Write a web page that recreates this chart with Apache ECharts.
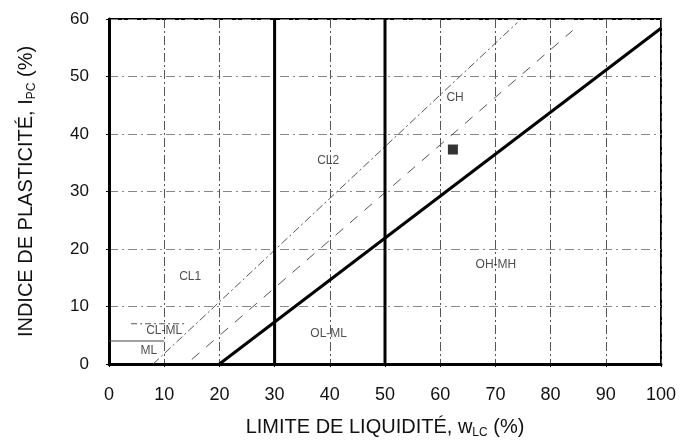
<!DOCTYPE html>
<html>
<head>
<meta charset="utf-8">
<script src="https://cdn.jsdelivr.net/npm/echarts@6/dist/echarts.min.js"></script>
<style>
html,body{margin:0;padding:0;background:#fff;}
#c{width:694px;height:444px;}
</style>
</head>
<body>
<div id="c"></div>
<script>
// ---- data ----
const xMin = 0, xMax = 100, xStep = 10;
const yMin = 0, yMax = 60, yStep = 10;
const aLine = [[20, 0], [100, 58.4]];          // thick boundary line
const uLine = [[8, 0], [74, 59.4]];            // thin dash-dot line
const midLine = [[15, 0.8], [84, 58]];         // dashed line
const wl30 = [[30, 0], [30, 60]];
const wl50 = [[50, 0], [50, 60]];
const clml4 = [[0, 4], [10, 4]];
const clml7 = [[4, 7], [14, 7]];
const samplePoint = [[62.3, 37.3]];
const zoneNames = ['CH', 'CL2', 'CL1', 'CL-ML', 'ML', 'OL-ML', 'OH-MH'];
const zoneX = [62.7, 39.7, 14.7, 10, 7.2, 39.8, 70.1];
const zoneY = [46.3, 35.3, 15.2, 5.8, 2.4, 5.3, 17.2];
const xName = 'LIMITE DE LIQUIDITÉ, w{sub|LC} (%)';
const yName = 'INDICE DE PLASTICITÉ, I{sub|PC} (%)';

const FONT = '"Liberation Sans", Arial, sans-serif';
const zoneData = zoneNames.map((n, i) => ({ name: n, value: [zoneX[i], zoneY[i]] }));

const nameRich = {
  sub: { fontSize: 12, lineHeight: 10, verticalAlign: 'bottom', fontFamily: FONT, color: '#111' }
};

const chart = echarts.init(document.getElementById('c'), null, { renderer: 'canvas' });
chart.setOption({
  animation: false,
  backgroundColor: '#fff',
  grid: { left: 109, right: 33, top: 19, bottom: 73, show: true, borderColor: '#000', borderWidth: 2, backgroundColor: 'transparent' },
  xAxis: {
    type: 'value', min: xMin, max: xMax, interval: xStep,
    name: xName, nameLocation: 'middle', nameGap: 51,
    nameTextStyle: { fontSize: 20, fontFamily: FONT, color: '#111', lineHeight: 24, rich: nameRich },
    axisLine: { show: true, onZero: false, lineStyle: { color: '#000', width: 3 } },
    axisTick: { show: true, length: 3, lineStyle: { color: '#000', width: 1 } },
    axisLabel: { fontSize: 18, fontFamily: FONT, color: '#111', margin: 22 },
    splitLine: { show: true, lineStyle: { color: '#555', width: 1, type: [9, 3, 2, 3] } }
  },
  yAxis: {
    type: 'value', min: yMin, max: yMax, interval: yStep,
    name: yName, nameLocation: 'middle', nameGap: 71, nameRotate: 90,
    nameTextStyle: { fontSize: 20, fontFamily: FONT, color: '#111', lineHeight: 24, rich: nameRich },
    axisLine: { show: true, onZero: false, lineStyle: { color: '#000', width: 3 } },
    axisTick: { show: true, length: 3, lineStyle: { color: '#000', width: 1 } },
    axisLabel: { fontSize: 17, fontFamily: FONT, color: '#111', margin: 20 },
    splitLine: { show: true, lineStyle: { color: '#888', width: 1, type: [9, 4, 2, 4] } }
  },
  series: [
    { type: 'line', data: uLine, showSymbol: false, silent: true, z: 3,
      lineStyle: { color: '#555', width: 1, type: [8, 3, 2, 3] } },
    { type: 'line', data: midLine, showSymbol: false, silent: true, z: 3,
      lineStyle: { color: '#555', width: 1, type: [10, 9] } },
    { type: 'line', data: clml4, showSymbol: false, silent: true, z: 3,
      lineStyle: { color: '#444', width: 1 } },
    { type: 'line', data: clml7, showSymbol: false, silent: true, z: 3,
      lineStyle: { color: '#555', width: 1, type: [6, 3, 2, 3] } },
    { type: 'line', data: aLine, showSymbol: false, silent: true, z: 5,
      lineStyle: { color: '#000', width: 3 } },
    { type: 'line', data: wl30, showSymbol: false, silent: true, z: 5,
      lineStyle: { color: '#000', width: 3 } },
    { type: 'line', data: wl50, showSymbol: false, silent: true, z: 5,
      lineStyle: { color: '#000', width: 3 } },
    { type: 'scatter', data: samplePoint, symbol: 'rect', symbolSize: 10, z: 6,
      itemStyle: { color: '#000' } },
    { type: 'scatter', data: zoneData, symbolSize: 0, silent: true, z: 6,
      label: { show: true, position: 'inside', formatter: p => p.name,
        fontSize: 12, fontFamily: FONT, color: '#222' } }
  ]
});
</script>
</body>
</html>
